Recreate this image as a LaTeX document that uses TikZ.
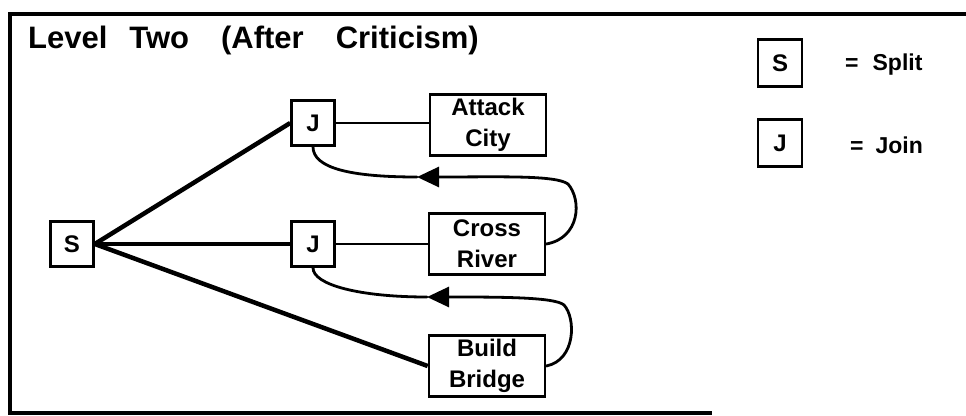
\documentclass[tikz,border=0pt]{standalone}
\usepackage{fontspec}
\setmainfont{Liberation Sans}
\usetikzlibrary{arrows.meta}
\begin{document}
\begin{tikzpicture}[x=1pt,y=-1pt,
  frameline/.style={line width=3.5pt, line cap=rect},
  box/.style={draw, line width=2.6pt, inner sep=0pt, align=center,
    font=\fontsize{24}{31}\selectfont\bfseries},
  gate/.style={box, minimum width=43pt, minimum height=45pt},
  task/.style={box, minimum width=116pt, minimum height=61pt},
  legendbox/.style={box, minimum width=44pt, minimum height=47pt},
  legendtext/.style={anchor=base west, inner sep=0pt,
    font=\fontsize{23}{23}\selectfont\bfseries},
  branch/.style={line width=4.5pt},
  joinline/.style={line width=2.6pt},
  backlink/.style={line width=2.8pt, line cap=round},
  backtip/.style={-{Triangle[length=22pt,width=20pt]}}
]
\useasboundingbox (0,0) rectangle (966,415);

% outer frame (open on the right)
\draw[frameline] (10,413) -- (10,14) -- (966,14);
\draw[frameline] (10,413) -- (710,413);

% heading with wide word spacing
\node[anchor=base west, inner sep=0pt, font=\fontsize{31}{31}\selectfont\bfseries]
  (title) at (28,48)
  {Level\hspace{22pt}Two\hspace{32pt}(After\hspace{32pt}Criticism)};

% plan nodes
\node[gate] (split) at (72,244) {S};
\node[gate] (jtop) at (313,123) {J};
\node[gate] (jmid) at (313,244) {J};
\node[task] (attack) at (488,125) {Attack\\City};
\node[task] (cross) at (487,244) {Cross\\River};
\node[task] (build) at (487,366) {Build\\Bridge};

% legend
\node[legendbox] (keys) at (780,63) {S};
\node[legendbox] (keyj) at (780,143) {J};
\node[legendtext] (splitlabel) at (845,70) {=\hspace{14pt}Split};
\node[legendtext] (joinlabel) at (850,153) {=\hspace{12pt}Join};

% split branches
\draw[branch] (split.east) -- (jtop.west);
\draw[branch] (split.east) -- (jmid.west);
\draw[branch] (split.east) -- (build.west);

% join links
\draw[joinline] (jtop.east) -- (jtop.east -| attack.west);
\draw[joinline] (jmid.east) -- (cross.west);

% feedback loops
\coordinate (tipa) at (417,177);
\coordinate (tipb) at (427,297);
\draw[backlink, backtip] (cross.east) .. controls (580,238) and (582,200) .. (568,184)
  .. controls (556,175) and (500,177) .. (tipa);
\draw[backlink] (tipa) .. controls (350,177) and (313,168) .. (jtop.south);
\draw[backlink, backtip] (build.east) .. controls (576,360) and (576,318) .. (564,305)
  .. controls (555,297) and (500,297) .. (tipb);
\draw[backlink] (tipb) .. controls (360,297) and (313,285) .. (jmid.south);
\end{tikzpicture}
\end{document}
